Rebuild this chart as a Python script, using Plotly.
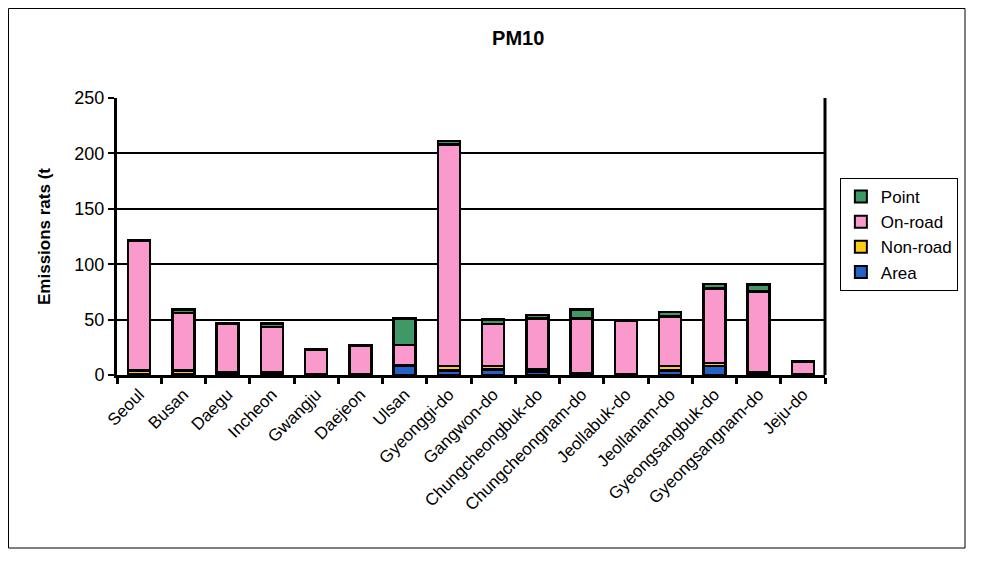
import plotly.graph_objects as go

regions = ["Seoul", "Busan", "Daegu", "Incheon", "Gwangju", "Daejeon", "Ulsan",
           "Gyeonggi-do", "Gangwon-do", "Chungcheongbuk-do", "Chungcheongnam-do",
           "Jeollabuk-do", "Jeollanam-do", "Gyeongsangbuk-do", "Gyeongsangnam-do", "Jeju-do"]

area =     [1.0, 1.0, 1.0, 1.0, 0.3, 0.3, 8.0, 4.0, 5.0, 3.0, 1.0, 0.3, 4.0, 8.0, 1.0, 0.2]
non_road = [3.0, 3.0, 1.5, 1.5, 0.3, 0.3, 1.0, 4.0, 3.0, 2.0, 1.0, 0.3, 4.0, 3.0, 1.5, 0.2]
on_road =  [117.0, 52.0, 43.5, 41.0, 22.0, 26.0, 18.0, 200.0, 38.0, 46.0, 49.0, 48.0, 45.0, 67.0, 73.0, 12.0]
point =    [0.5, 3.0, 1.0, 3.0, 0.2, 0.2, 24.0, 3.0, 4.0, 3.0, 8.0, 0.3, 4.0, 4.0, 6.0, 0.3]

y_ticks = [0, 50, 100, 150, 200, 250]

series = [
    ("Area", area, "#2462C8"),
    ("Non-road", non_road, "#FFCC1A"),
    ("On-road", on_road, "#F999CC"),
    ("Point", point, "#3F9966"),
]

fig = go.Figure()
for name, vals, col in series:
    fig.add_trace(go.Bar(
        x=regions, y=vals, name=name,
        marker=dict(color=col, line=dict(color="black", width=2.5)),
    ))

font_family = "Liberation Sans, Arial, sans-serif"

W, H = 979, 557
L, R, T, B = 109, 162, 90, 190
pw, ph = W - L - R, H - T - B

fig.update_layout(
    width=W, height=H,
    barmode="stack", bargap=0.5,
    paper_bgcolor="white", plot_bgcolor="white",
    margin=dict(l=L, r=R, t=T, b=B),
    font=dict(family=font_family, color="black", size=16),
    title=dict(text="<b>PM10</b>", x=(486 - 8 - L) / pw, xanchor="center",
               y=1 - 30 / H, yanchor="middle",
               font=dict(size=20, family=font_family)),
    showlegend=True,
    legend=dict(x=1.021, y=0.711, xanchor="left", yanchor="top",
                traceorder="reversed", bordercolor="black", borderwidth=1,
                bgcolor="white", font=dict(size=17), itemsizing="constant",
                tracegroupgap=0),
    shapes=[dict(type="rect", xref="paper", yref="paper",
                 x0=(0.5 - L) / pw, x1=(957 - L) / pw,
                 y0=(H - B - 540) / ph, y1=(H - B - 0.5) / ph,
                 line=dict(color="black", width=1), layer="below")],
)

fig.update_xaxes(
    showline=True, linecolor="black", linewidth=3, mirror=False,
    ticks="outside", tickson="boundaries", ticklen=6, tickwidth=3, tickcolor="black",
    tickangle=-45, tickfont=dict(size=17), showgrid=False,
)
fig.update_yaxes(
    range=[0, 250], tickvals=y_ticks, ticktext=[str(v) for v in y_ticks],
    showline=True, linecolor="black", linewidth=3,
    ticks="outside", ticklen=6, tickwidth=2, tickcolor="black",
    showgrid=True, gridcolor="black", gridwidth=2,
    tickfont=dict(size=18), zeroline=False,
    title=dict(text="<b>Emissions rats (t</b>", font=dict(size=17), standoff=20),
)

fig.add_shape(type="line", xref="paper", yref="paper", x0=1, x1=1, y0=0, y1=1,
              line=dict(color="black", width=3))

fig.write_html("out.html")
